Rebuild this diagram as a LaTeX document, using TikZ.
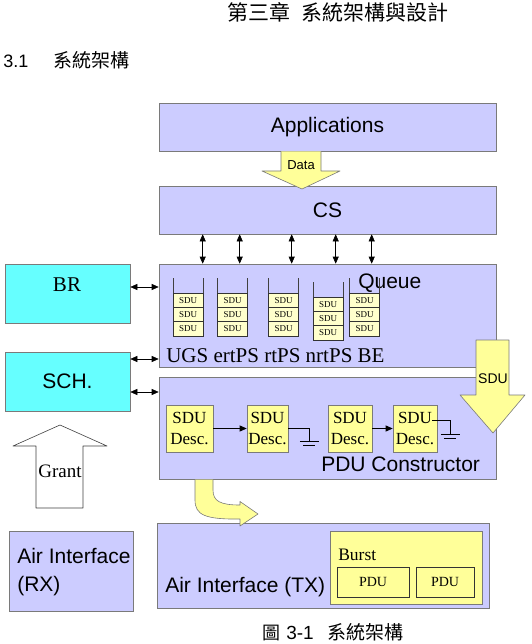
\documentclass[tikz,border=0pt]{standalone}
\usepackage{fontspec}
\setmainfont{Liberation Serif}
\setsansfont{Liberation Sans}
\newfontfamily\cjk{Noto Sans CJK TC}
\usetikzlibrary{arrows.meta}
\definecolor{lav}{HTML}{CCCCFF}
\definecolor{aqua}{HTML}{66FFFF}
\definecolor{butter}{HTML}{FFFF99}
\definecolor{cream}{HTML}{FFFFCC}
\definecolor{rim}{HTML}{7A7A7A}
\newcommand\sizeat[1]{\fontsize{#1}{#1}\selectfont}

\begin{document}
\begin{tikzpicture}[x=1pt,y=-1pt,>={Triangle[length=7pt,width=6pt]},
                    semithick,inner sep=0pt]
  \tikzstyle{layer}=[rectangle,draw=rim,fill=lav,font=\sffamily\sizeat{21}]
  \tikzstyle{side}=[rectangle,draw=rim,fill=aqua,minimum width=125,minimum height=59]
  \tikzstyle{desc}=[rectangle,draw=rim,fill=butter,minimum height=47,align=center,
                    font=\fontsize{17}{21}\selectfont]
  \tikzstyle{sdu}=[rectangle,draw=black!80,fill=cream,minimum width=30,
                   minimum height=14.3,font=\sizeat{9}]
  \tikzstyle{pdubox}=[rectangle,draw=black!80,minimum height=30,font=\sizeat{14}]
  \tikzstyle{blockarrow}=[draw=rim,fill=butter,line join=round]
  \useasboundingbox (0,0) rectangle (531,644);

  % page headings
  \node (chap) at (338,12) {\cjk\sizeat{21}第三章\hspace{12pt}系統架構與設計};
  \node[anchor=west] (sec) at (3,60)
    {\sffamily\sizeat{18}3.1\hspace{25pt}{\cjk\sizeat{19}系統架構}};

  % layers
  \node[layer,minimum width=337,minimum height=48]  (apps)  at (327.5,127.5) {Applications};
  \node[layer,minimum width=337,minimum height=48]  (cs)    at (327.5,210)   {CS};
  \node[layer,minimum width=337,minimum height=103] (queue) at (327.5,315.5) {};
  \node[layer,minimum width=337,minimum height=102] (pdu)   at (327.5,428)   {};
  \node[side] (br)  at (67.5,293.5) {};
  \node[side,font=\sffamily\sizeat{21}] (sch) at (67.5,381.5) {SCH.};
  \node[layer,minimum width=124,minimum height=80] (rx) at (71,571)    {};
  \node[layer,minimum width=332,minimum height=85] (tx) at (323,565.5) {};
  \node[rectangle,draw=rim,fill=butter,minimum width=152,minimum height=73]
        (burst) at (406,567.5) {};
  \node[pdubox,minimum width=72] (pdu1) at (373,582) {PDU};
  \node[pdubox,minimum width=58] (pdu2) at (445,582) {PDU};

  % texts
  \node[anchor=base] (brtxt) at (67,291) {\sizeat{21}BR};
  \node[anchor=base west,font=\sffamily\sizeat{21}] (qtxt) at (358,288) {Queue};
  \node[anchor=base west] (cls) at (166,362) {\sizeat{21}UGS ertPS rtPS nrtPS BE};
  \node[anchor=base west,font=\sffamily\sizeat{21}] (ptxt) at (321,471) {PDU Constructor};
  \node[anchor=north west,align=left,font=\sffamily\fontsize{21}{28}\selectfont]
        (rxtxt) at (17,547.5) {Air Interface\\(RX)};
  \node[anchor=base west,font=\sffamily\sizeat{21}] (txtxt) at (165,592) {Air Interface (TX)};
  \node[anchor=base west] (btxt) at (338,560) {\sizeat{17.5}Burst};

  % SDU queues
  \foreach \sx/\sy [count=\k] in {188/293,232.5/293,283.5/293,328/297,364.5/293} {
    \draw[black!75] (\sx-15,\sy-15) -- (\sx-15,\sy+43) -- (\sx+15,\sy+43) -- (\sx+15,\sy-15);
    \foreach \j in {1,2,3}
      \node[sdu] (sdu-\k-\j) at (\sx,\sy+14.33*\j-7.17) {SDU};
  }
  \foreach \dx in {44,81,133,177,213}
    \draw[<->] ([xshift=\dx]cs.south west) -- ([xshift=\dx]queue.north west);

  \draw[<->] (br.east |- 0,287)  -- (queue.west |- 0,287);
  \draw[<->] (sch.east |- 0,359) -- (queue.west |- 0,359);
  \draw[<->] (sch.east |- 0,392) -- (pdu.west |- 0,392);

  % descriptors
  \node[desc,minimum width=47] (d1) at (189.5,428.5) {SDU\\Desc.};
  \node[desc,minimum width=41] (d2) at (267.5,428.5) {SDU\\Desc.};
  \node[desc,minimum width=44] (d3) at (350,428.5)   {SDU\\Desc.};
  \node[desc,minimum width=44] (d4) at (415,428.5)   {SDU\\Desc.};
  \draw[->] (d1.east) -- (d2.west);
  \draw[->] (d3.east) -- (d4.west);
  \draw (d2.east) -- ++(21,0) -- ++(0,12.5) coordinate (gnd1);
  \draw ([xshift=-9.5]gnd1) -- ([xshift=9.5]gnd1)
        ([xshift=-6,yshift=-4]gnd1) -- ([xshift=6,yshift=-4]gnd1);
  \draw ([xshift=-5,yshift=8.5]d4.east) -- ++(18,0) -- ++(0,14) coordinate (gnd2);
  \draw ([xshift=-9.5]gnd2) -- ([xshift=9.5]gnd2)
        ([xshift=-6,yshift=-4]gnd2) -- ([xshift=6,yshift=-4]gnd2);

  % block arrows
  \draw[blockarrow] (281,151.5) -- (281,171) -- (262,171) -- (302,189) -- (340,171)
        -- (321,171) -- (321,151.5);
  \node[anchor=base,font=\sffamily\sizeat{13}] (datatxt) at (301,170) {Data};
  \draw[blockarrow] (476,340) -- (509,340) -- (509,395) -- (525,395) -- (493,433)
        -- (460,395) -- (476,395) -- cycle;
  \node[anchor=base,font=\sffamily\sizeat{14}] (sdutxt) at (493,383) {SDU};
  \draw[blockarrow] (195,479.5) -- (195,500) .. controls (195,515) and (205,519.5) .. (240,519)
        -- (240,526) -- (258,514) -- (240,501.5) -- (240,505)
        .. controls (220,505) and (213,501) .. (213,490) -- (213,479.5);
  \draw[draw=black!75,fill=white,line join=round] (36,508) -- (36,446) -- (13,446) -- (60,425)
        -- (107,446) -- (83,446) -- (83,508) -- cycle;
  \node[anchor=base] (granttxt) at (60,477.5) {\sizeat{19}Grant};

  % caption
  \node[anchor=west] (cap) at (262,632)
    {{\cjk\sizeat{18}圖}\hspace{6pt}{\sffamily\sizeat{19}3-1}\hspace{14pt}{\cjk\sizeat{19}系統架構}};
\end{tikzpicture}
\end{document}
